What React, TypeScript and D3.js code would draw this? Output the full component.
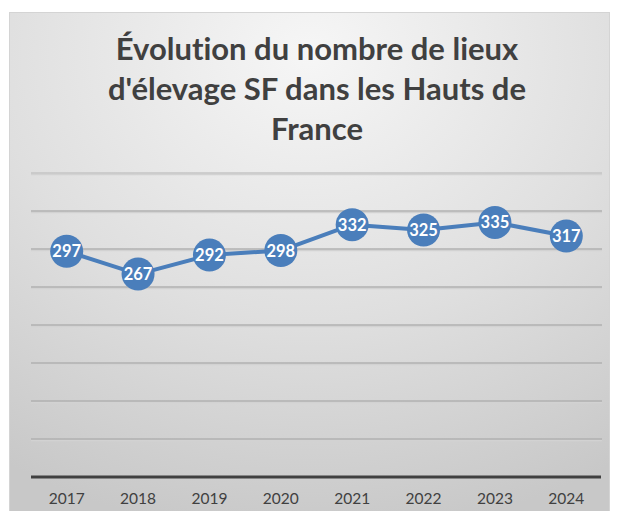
import React from "react";
import * as d3 from "d3";

const years = ["2017", "2018", "2019", "2020", "2021", "2022", "2023", "2024"];
const lieux = [297, 267, 292, 298, 332, 325, 335, 317];
const yTicks = [50, 100, 150, 200, 250, 300, 350, 400];
const titleLines = [
  "Évolution du nombre de lieux",
  "d'élevage SF dans les Hauts de",
  "France",
];

const W = 617;
const H = 511;
const font = "Lato, 'Open Sans', sans-serif";

export default function App() {
  const x = d3.scaleBand<string>().domain(years).range([31, 602]);
  const y = d3.scaleLinear().domain([0, 400]).range([477, 173]);
  const cx = (d: string) => (x(d) || 0) + x.bandwidth() / 2;

  const line = d3
    .line<number>()
    .x((_, i) => cx(years[i]))
    .y((d) => y(d));

  return (
    <svg
      width={W}
      height={H}
      style={{ position: "absolute", left: 0, top: 0, background: "#fff", fontVariantLigatures: "none" }}
    >
      <defs>
        <radialGradient id="bg" cx="50%" cy="8%" r="95%" fx="50%" fy="8%">
          <stop offset="0" stopColor="#f6f6f6" />
          <stop offset="0.55" stopColor="#dfdfdf" />
          <stop offset="1" stopColor="#c8c8c8" />
        </radialGradient>
      </defs>
      <rect x={9.5} y={12.5} width={600} height={510} fill="url(#bg)" stroke="#d4d4d4" />

      {titleLines.map((t, i) => (
        <text
          key={i}
          x={317}
          y={60 + i * 40}
          textAnchor="middle"
          fontFamily={font}
          fontWeight="bold"
          fontSize={31}
          fill="#404040"
        >
          {t}
        </text>
      ))}

      {yTicks.map((v) => (
        <g key={v}>
          <line x1={31} x2={602} y1={y(v) + 1.5} y2={y(v) + 1.5} stroke="#d2d2d2" strokeWidth={1.5} />
          <line
            x1={31}
            x2={602}
            y1={y(v)}
            y2={y(v)}
            stroke={v === 400 ? "#c4c4c4" : "#b0b0b0"}
            strokeWidth={1.5}
          />
        </g>
      ))}
      <line x1={31} x2={601} y1={y(0)} y2={y(0)} stroke="#404040" strokeWidth={3} />

      {years.map((yr) => (
        <text
          key={yr}
          x={cx(yr)}
          y={504}
          textAnchor="middle"
          fontFamily={font}
          fontSize={15.5}
          fill="#404040"
        >
          {yr}
        </text>
      ))}

      <path d={line(lieux) || ""} fill="none" stroke="#4a7ebb" strokeWidth={4} strokeLinejoin="round" />
      {lieux.map((v, i) => (
        <g key={i}>
          <circle cx={cx(years[i])} cy={y(v)} r={16.5} fill="#4a7ebb" />
          <text
            x={cx(years[i])}
            y={y(v) + 6}
            textAnchor="middle"
            fontFamily={font}
            fontWeight="bold"
            fontSize={16.5}
            fill="#fff"
          >
            {v}
          </text>
        </g>
      ))}
    </svg>
  );
}
